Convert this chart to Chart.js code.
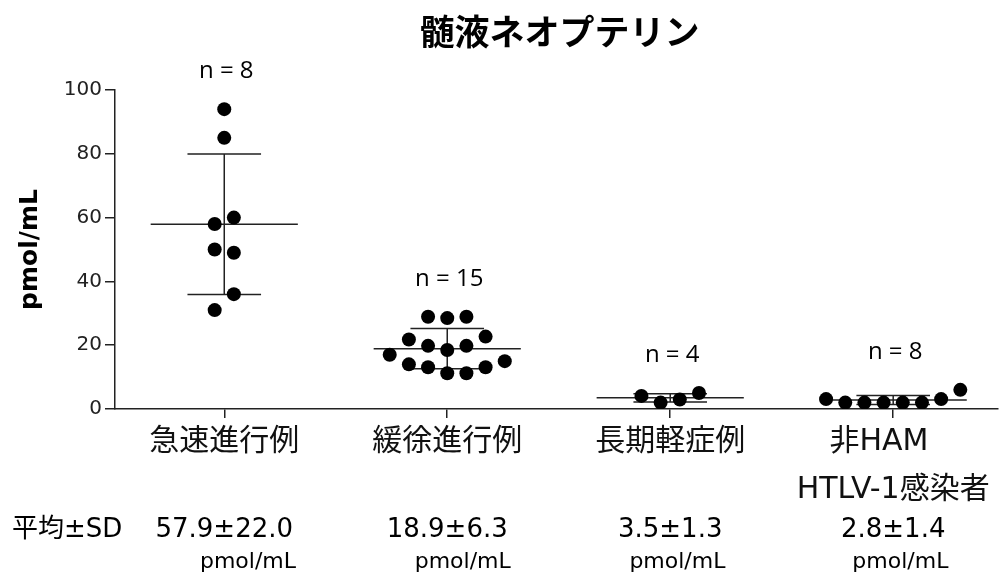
<!DOCTYPE html>
<html>
<head>
<meta charset="utf-8">
<script src="https://cdn.jsdelivr.net/npm/chart.js@4.4.1/dist/chart.umd.min.js"></script>
<style>
  html, body { margin: 0; padding: 0; background: #fff; }
  #wrap { width: 1005px; height: 580px; position: relative; }
</style>
</head>
<body>
<div id="wrap"><canvas id="c" width="1005" height="580"></canvas></div>
<script>
// ---- data ----
const chartTitle = '髄液ネオプテリン';
const categories = [['急速進行例'], ['緩徐進行例'], ['長期軽症例'], ['非HAM   ', 'HTLV-1感染者']];

const rapidValues   = [94, 85, 60, 58, 50, 49, 36, 31];
const slowValues    = [28.9, 28.5, 28.9, 21.8, 19.8, 18.5, 19.8, 22.7, 17.0, 14.0, 13.1, 11.2, 11.2, 13.1, 15.0];
const mildValues    = [4.1, 2.0, 3.0, 5.0];
const carrierValues = [3.1, 2.0, 2.0, 2.0, 2.0, 2.0, 3.1, 6.0];

// swarm column of each dot within its group (0 = on the category line)
const rapidSlots   = [0, 0, 0.5, -0.5, -0.5, 0.5, 0.5, -0.5];
const slowSlots    = [-1, 0, 1, -2, -1, 0, 1, 2, -3, -2, -1, 0, 1, 2, 3];
const mildSlots    = [-1.5, -0.5, 0.5, 1.5];
const carrierSlots = [-3.5, -2.5, -1.5, -0.5, 0.5, 1.5, 2.5, 3.5];

const groupMeans = [57.9, 18.9, 3.5, 2.8];
const groupSDs   = [22.0, 6.3, 1.3, 1.4];

const yTicks = [0, 20, 40, 60, 80, 100];
const yAxisLabel = 'pmol/mL';
const summaryLabel = '平均±SD';
const unitLabel = 'pmol/mL';

// ---- build datasets ----
const FONT = '"DejaVu Sans", "Noto Sans CJK JP", sans-serif';
const SLOT_W = 0.086;
const MEAN_HALF = 0.33;
const CAP_HALF = 0.165;

const groups = [rapidValues, slowValues, mildValues, carrierValues];
const slots = [rapidSlots, slowSlots, mildSlots, carrierSlots];

const dots = [];
groups.forEach((vals, g) => vals.forEach((v, i) => dots.push({ x: g + 1 + slots[g][i] * SLOT_W, y: v })));

const meanLines = [], sdCaps = [], sdStems = [];
groupMeans.forEach((m, g) => {
  const c = g + 1, s = groupSDs[g];
  meanLines.push({ x: c - MEAN_HALF, y: m }, { x: c + MEAN_HALF, y: m }, { x: c + 0.5, y: null });
  sdCaps.push({ x: c - CAP_HALF, y: m + s }, { x: c + CAP_HALF, y: m + s }, { x: c, y: null },
              { x: c - CAP_HALF, y: m - s }, { x: c + CAP_HALF, y: m - s }, { x: c + 0.5, y: null });
  sdStems.push({ x: c, y: m - s }, { x: c, y: m + s }, { x: c + 0.5, y: null });
});

const lineStyle = { showLine: true, pointRadius: 0, borderColor: '#222', borderWidth: 1.5, spanGaps: false, order: 1 };

// ---- text drawn around the plot ----
const annotate = {
  id: 'annotate',
  afterDraw(chart) {
    const { ctx, chartArea, scales: { x, y } } = chart;
    ctx.save();
    ctx.fillStyle = '#000';
    ctx.textBaseline = 'middle';

    ctx.textAlign = 'center';
    ctx.font = 'bold 35px "Noto Sans CJK JP", sans-serif';
    ctx.fillText(chartTitle, (chartArea.left + chartArea.right) / 2 + 3, 32);

    // group sizes above each swarm
    ctx.font = '24px "Open Sans", sans-serif';
    groups.forEach((vals, g) => {
      const px = x.getPixelForValue(g + 1);
      const py = y.getPixelForValue(Math.max(...vals)) - 38;
      ctx.fillText('n = ' + vals.length, px + 2, py);
    });

    // mean ± SD row
    ctx.textAlign = 'left';
    ctx.font = '26px ' + FONT;
    ctx.fillText(summaryLabel, 12, 530);
    groupMeans.forEach((m, g) => {
      const px = x.getPixelForValue(g + 1);
      const txt = m.toFixed(1) + '±' + groupSDs[g].toFixed(1);
      ctx.font = '26px ' + FONT;
      const w = ctx.measureText(txt).width;
      ctx.textAlign = 'center';
      ctx.fillText(txt, px, 530);
      ctx.textAlign = 'right';
      ctx.font = '22px ' + FONT;
      ctx.fillText(unitLabel, px + w / 2 + 3, 562);
    });
    ctx.restore();
  }
};

new Chart(document.getElementById('c'), {
  type: 'scatter',
  data: {
    datasets: [
      { data: dots, pointRadius: 7, pointHoverRadius: 7, backgroundColor: '#000', borderWidth: 0, order: 0 },
      Object.assign({ data: meanLines }, lineStyle),
      Object.assign({ data: sdCaps }, lineStyle),
      Object.assign({ data: sdStems }, lineStyle)
    ]
  },
  options: {
    responsive: false,
    animation: false,
    layout: { padding: { top: 90, right: 2, left: 0, bottom: 0 } },
    plugins: { legend: { display: false }, tooltip: { enabled: false } },
    scales: {
      x: {
        type: 'linear',
        min: 0.51,
        max: 4.47,
        afterBuildTicks: s => { s.ticks = categories.map((_, i) => ({ value: i + 1 })); },
        afterFit: s => { s.height = 171; },
        grid: { drawOnChartArea: false, drawTicks: true, tickLength: 9, color: '#222', lineWidth: 1.5 },
        border: { display: true, color: '#222', width: 1.5 },
        ticks: {
          autoSkip: false, maxRotation: 0, minRotation: 0, padding: 0, color: '#111',
          font: { family: FONT, size: 30, lineHeight: 1.6 },
          callback: (v, i) => categories[i]
        }
      },
      y: {
        min: 0,
        max: 100,
        afterBuildTicks: s => { s.ticks = yTicks.map(v => ({ value: v })); },
        afterFit: s => { s.width = 115; },
        grid: { drawOnChartArea: false, drawTicks: true, tickLength: 10, color: '#222', lineWidth: 1.5 },
        border: { display: true, color: '#222', width: 1.5 },
        ticks: { padding: 3, color: '#222', font: { family: FONT, size: 20 } },
        title: {
          display: true, text: yAxisLabel, color: '#000',
          font: { family: FONT, size: 25, weight: 'bold' },
          padding: { top: 15, bottom: 0 }
        }
      }
    }
  },
  plugins: [annotate]
});
</script>
</body>
</html>
